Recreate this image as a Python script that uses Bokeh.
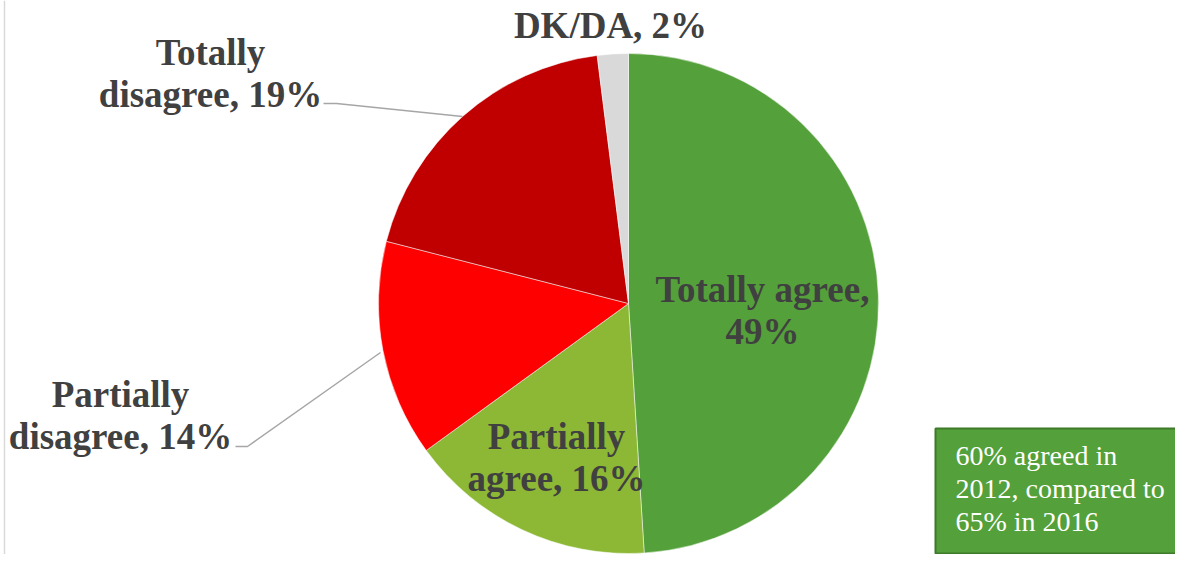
import math
from bokeh.plotting import figure
from bokeh.models import Range1d, ColumnDataSource
from bokeh.core.properties import value
from bokeh.embed import file_html
from bokeh.resources import INLINE

# ---- data ----
categories = ["Totally agree", "Partially agree", "Partially disagree", "Totally disagree", "DK/DA"]
shares = [49, 16, 14, 19, 2]
colors = ["#54A03A", "#8CB835", "#FF0000", "#C00000", "#D9D9D9"]
labels = ["Totally agree,\n49%", "Partially\nagree, 16%", "Partially\ndisagree, 14%",
          "Totally\ndisagree, 19%", "DK/DA, 2%"]
note = "60% agreed in\n2012, compared to\n65% in 2016"

W, H = 1175, 554
FONT = "Liberation Serif"
TXT = "#404040"

def Y(wy):  # picture-pixel y -> data y
    return 570 - wy

p = figure(width=W, height=H, output_backend="svg", toolbar_location=None,
           x_range=Range1d(0, W), y_range=Range1d(570 - H, 570),
           min_border=0)
p.axis.visible = False
p.grid.visible = False
p.outline_line_color = None
p.background_fill_color = "white"
p.border_fill_color = "white"

# left frame line
p.line([4, 4], [Y(0), Y(570)], line_color="#D9D9D9", line_width=1.5)

# ---- pie ----
cx, cy, r = 628, Y(303), 250
total = float(sum(shares))
starts, ends = [], []
acc = 0.0
for s in shares:
    a0 = math.pi / 2 - 2 * math.pi * acc / total
    acc += s
    a1 = math.pi / 2 - 2 * math.pi * acc / total
    starts.append(a0)
    ends.append(a1)
src = ColumnDataSource(dict(x=[cx] * len(shares), y=[cy] * len(shares),
                            start=starts, end=ends, color=colors, cat=categories))
p.wedge(x="x", y="y", radius=r, start_angle="start", end_angle="end",
        direction="clock", fill_color="color", line_color="white", line_width=0.5,
        source=src)

# ---- leader lines ----
p.line([235, 247, 380], [Y(446), Y(446), Y(352)], line_color="#A6A6A6", line_width=1.5)
p.line([323, 336, 462], [Y(103), Y(103), Y(116)], line_color="#A6A6A6", line_width=1.5)

# ---- labels (center x, first baseline y in picture px) ----
label_pos = [(762, 289), (556, 436), (120, 394), (210, 52), (610, 25)]
LH = 42
lx, ly, lt = [], [], []
for lab, (x, y0) in zip(labels, label_pos):
    for i, line in enumerate(lab.split("\n")):
        lx.append(x)
        ly.append(Y(y0 + i * LH))
        lt.append(line)
p.text(x=lx, y=ly, text=lt, text_font=value(FONT), text_font_style="bold",
       text_font_size="37px", text_color=TXT, text_align="center",
       text_baseline="alphabetic")

# ---- note box ----
p.quad(left=935, right=1200, top=Y(428), bottom=Y(553),
       fill_color="#54A03A", line_color="#3F7A2B", line_width=2)
nx, ny, nt = [], [], []
for i, line in enumerate(note.split("\n")):
    nx.append(955)
    ny.append(Y(455 + i * 33))
    nt.append(line)
p.text(x=nx, y=ny, text=nt, text_font=value(FONT), text_font_size="28px",
       text_color="white", text_align="left", text_baseline="alphabetic")

open("out.html", "w").write(file_html(p, INLINE))
